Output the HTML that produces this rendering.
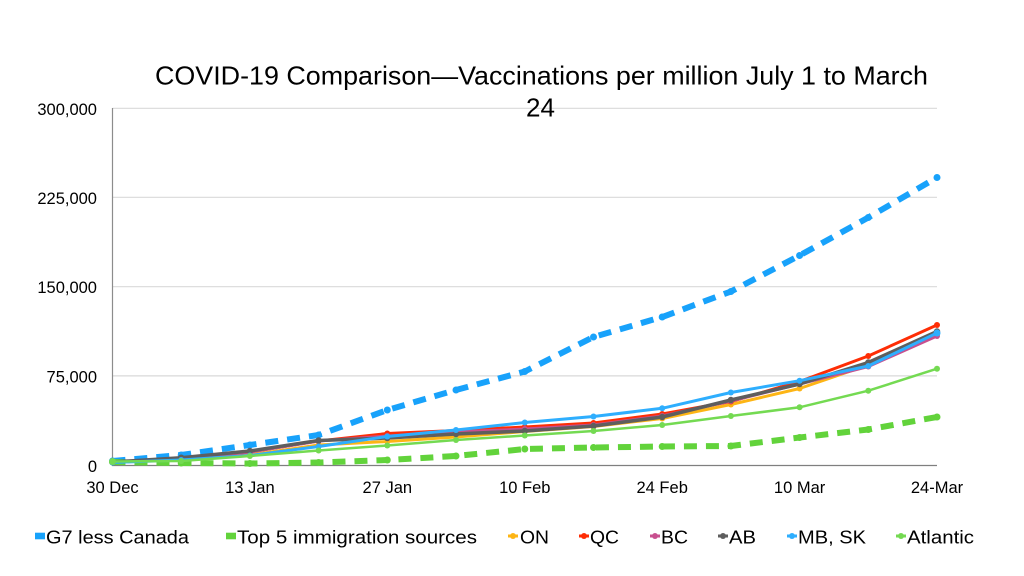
<!DOCTYPE html>
<html>
<head>
<meta charset="utf-8">
<style>
  html,body{margin:0;padding:0;background:#fff;}
  svg{display:block;}
  text{font-family:"Liberation Sans", Arial, sans-serif; fill:#000;}
</style>
</head>
<body>
<svg width="1024" height="576" viewBox="0 0 1024 576" xmlns="http://www.w3.org/2000/svg">
  <rect x="0" y="0" width="1024" height="576" fill="#fff"/>

  <!-- gridlines -->
  <g stroke="#d9d9d9" stroke-width="1.2">
    <line x1="112.5" y1="108.3" x2="937" y2="108.3"/>
    <line x1="112.5" y1="197.3" x2="937" y2="197.3"/>
    <line x1="112.5" y1="286.7" x2="937" y2="286.7"/>
    <line x1="112.5" y1="375.9" x2="937" y2="375.9"/>
  </g>

  <!-- title -->
  <text x="541.5" y="84.3" font-size="26" text-anchor="middle" textLength="773" lengthAdjust="spacingAndGlyphs">COVID-19 Comparison—Vaccinations per million July 1 to March</text>
  <text x="540.5" y="116.7" font-size="26" text-anchor="middle">24</text>

  <!-- axes -->
  <line x1="112.5" y1="108" x2="112.5" y2="465.5" stroke="#8c8c8c" stroke-width="1.2"/>
  <line x1="112" y1="465.5" x2="937" y2="465.5" stroke="#7f7f7f" stroke-width="1.2"/>

  <!-- y labels -->
  <g font-size="16.5" text-anchor="end">
    <text x="97" y="114.8">300,000</text>
    <text x="97" y="203.8">225,000</text>
    <text x="97" y="293.2">150,000</text>
    <text x="97" y="382.4">75,000</text>
    <text x="97" y="471.8">0</text>
  </g>

  <!-- x labels -->
  <g font-size="16.5" text-anchor="middle">
    <text x="112.5" y="493">30 Dec</text>
    <text x="249.9" y="493">13 Jan</text>
    <text x="387.3" y="493">27 Jan</text>
    <text x="524.8" y="493">10 Feb</text>
    <text x="662.2" y="493">24 Feb</text>
    <text x="799.6" y="493">10 Mar</text>
    <text x="937" y="493">24-Mar</text>
  </g>

  <!-- G7 less Canada (dashed blue) -->
  <polyline fill="none" stroke="#18a2fb" stroke-width="6" stroke-dasharray="13 9" stroke-linejoin="round"
    points="112.5,461 181.2,455 249.9,445 318.6,435 387.3,410 456,390 524.8,371.5 593.5,337 662.2,317 730.9,291.5 799.6,255.5 868.3,217.5 937,177.5"/>
  <g fill="#18a2fb">
    <circle cx="112.5" cy="461" r="3.5"/><circle cx="181.2" cy="455" r="3.5"/><circle cx="249.9" cy="445" r="3.5"/><circle cx="318.6" cy="435" r="3.5"/><circle cx="387.3" cy="410" r="3.5"/><circle cx="456" cy="390" r="3.5"/><circle cx="524.8" cy="371.5" r="3.5"/><circle cx="593.5" cy="337" r="3.5"/><circle cx="662.2" cy="317" r="3.5"/><circle cx="730.9" cy="291.5" r="3.5"/><circle cx="799.6" cy="255.5" r="3.5"/><circle cx="868.3" cy="217.5" r="3.5"/><circle cx="937" cy="177.5" r="3.5"/>
  </g>

  <!-- Top 5 immigration sources (dashed green) -->
  <polyline fill="none" stroke="#62d33b" stroke-width="6" stroke-dasharray="13 9" stroke-linejoin="round"
    points="112.5,462 181.2,463 249.9,463.5 318.6,462.5 387.3,460 456,456 524.8,449 593.5,447.5 662.2,446.5 730.9,446 799.6,437.5 868.3,429.5 937,417"/>
  <g fill="#62d33b">
    <circle cx="112.5" cy="462" r="3.5"/><circle cx="181.2" cy="463" r="3.5"/><circle cx="249.9" cy="463.5" r="3.5"/><circle cx="318.6" cy="462.5" r="3.5"/><circle cx="387.3" cy="460" r="3.5"/><circle cx="456" cy="456" r="3.5"/><circle cx="524.8" cy="449" r="3.5"/><circle cx="593.5" cy="447.5" r="3.5"/><circle cx="662.2" cy="446.5" r="3.5"/><circle cx="730.9" cy="446" r="3.5"/><circle cx="799.6" cy="437.5" r="3.5"/><circle cx="868.3" cy="429.5" r="3.5"/><circle cx="937" cy="417" r="3.5"/>
  </g>

  <!-- ON -->
  <polyline fill="none" stroke="#fdb515" stroke-width="3" stroke-linejoin="round"
    points="112.5,462 181.2,460 249.9,455 318.6,445 387.3,441.5 456,437 524.8,431.5 593.5,426.5 662.2,418.5 730.9,404.5 799.6,388.5 868.3,365 937,334"/>
  <g fill="#fdb515">
    <circle cx="112.5" cy="462" r="3"/><circle cx="181.2" cy="460" r="3"/><circle cx="249.9" cy="455" r="3"/><circle cx="318.6" cy="445" r="3"/><circle cx="387.3" cy="441.5" r="3"/><circle cx="456" cy="437" r="3"/><circle cx="524.8" cy="431.5" r="3"/><circle cx="593.5" cy="426.5" r="3"/><circle cx="662.2" cy="418.5" r="3"/><circle cx="730.9" cy="404.5" r="3"/><circle cx="799.6" cy="388.5" r="3"/><circle cx="868.3" cy="365" r="3"/><circle cx="937" cy="334" r="3"/>
  </g>

  <!-- QC -->
  <polyline fill="none" stroke="#fe2d05" stroke-width="3" stroke-linejoin="round"
    points="112.5,462 181.2,459 249.9,452 318.6,441 387.3,433.5 456,430.5 524.8,427 593.5,423 662.2,414 730.9,401.5 799.6,381.5 868.3,356 937,325"/>
  <g fill="#fe2d05">
    <circle cx="112.5" cy="462" r="3"/><circle cx="181.2" cy="459" r="3"/><circle cx="249.9" cy="452" r="3"/><circle cx="318.6" cy="441" r="3"/><circle cx="387.3" cy="433.5" r="3"/><circle cx="456" cy="430.5" r="3"/><circle cx="524.8" cy="427" r="3"/><circle cx="593.5" cy="423" r="3"/><circle cx="662.2" cy="414" r="3"/><circle cx="730.9" cy="401.5" r="3"/><circle cx="799.6" cy="381.5" r="3"/><circle cx="868.3" cy="356" r="3"/><circle cx="937" cy="325" r="3"/>
  </g>

  <!-- BC -->
  <polyline fill="none" stroke="#c8508f" stroke-width="3" stroke-linejoin="round"
    points="112.5,462 181.2,458.5 249.9,452 318.6,441 387.3,436 456,432 524.8,429 593.5,425 662.2,416 730.9,401 799.6,384 868.3,366.5 937,336"/>
  <g fill="#c8508f">
    <circle cx="112.5" cy="462" r="3"/><circle cx="181.2" cy="458.5" r="3"/><circle cx="249.9" cy="452" r="3"/><circle cx="318.6" cy="441" r="3"/><circle cx="387.3" cy="436" r="3"/><circle cx="456" cy="432" r="3"/><circle cx="524.8" cy="429" r="3"/><circle cx="593.5" cy="425" r="3"/><circle cx="662.2" cy="416" r="3"/><circle cx="730.9" cy="401" r="3"/><circle cx="799.6" cy="384" r="3"/><circle cx="868.3" cy="366.5" r="3"/><circle cx="937" cy="336" r="3"/>
  </g>

  <!-- AB -->
  <polyline fill="none" stroke="#5e5e5e" stroke-width="3.5" stroke-linejoin="round"
    points="112.5,462 181.2,457.7 249.9,451 318.6,440.5 387.3,438 456,434 524.8,431 593.5,426 662.2,417 730.9,400 799.6,384 868.3,362.5 937,331.5"/>
  <g fill="#5e5e5e">
    <circle cx="112.5" cy="462" r="3.2"/><circle cx="181.2" cy="457.7" r="3.2"/><circle cx="249.9" cy="451" r="3.2"/><circle cx="318.6" cy="440.5" r="3.2"/><circle cx="387.3" cy="438" r="3.2"/><circle cx="456" cy="434" r="3.2"/><circle cx="524.8" cy="431" r="3.2"/><circle cx="593.5" cy="426" r="3.2"/><circle cx="662.2" cy="417" r="3.2"/><circle cx="730.9" cy="400" r="3.2"/><circle cx="799.6" cy="384" r="3.2"/><circle cx="868.3" cy="362.5" r="3.2"/><circle cx="937" cy="331.5" r="3.2"/>
  </g>

  <!-- MB, SK -->
  <polyline fill="none" stroke="#2eaefe" stroke-width="3" stroke-linejoin="round"
    points="112.5,462.5 181.2,460 249.9,455.5 318.6,446.5 387.3,436.5 456,430 524.8,422.5 593.5,416.5 662.2,408.3 730.9,392.5 799.6,380.7 868.3,366 937,333"/>
  <g fill="#2eaefe">
    <circle cx="112.5" cy="462.5" r="3"/><circle cx="181.2" cy="460" r="3"/><circle cx="249.9" cy="455.5" r="3"/><circle cx="318.6" cy="446.5" r="3"/><circle cx="387.3" cy="436.5" r="3"/><circle cx="456" cy="430" r="3"/><circle cx="524.8" cy="422.5" r="3"/><circle cx="593.5" cy="416.5" r="3"/><circle cx="662.2" cy="408.3" r="3"/><circle cx="730.9" cy="392.5" r="3"/><circle cx="799.6" cy="380.7" r="3"/><circle cx="868.3" cy="366" r="3"/><circle cx="937" cy="333" r="3.5"/>
  </g>

  <!-- Atlantic -->
  <polyline fill="none" stroke="#74da52" stroke-width="2.5" stroke-linejoin="round"
    points="112.5,461.5 181.2,461 249.9,456 318.6,450.5 387.3,445.5 456,440 524.8,435.5 593.5,431 662.2,425 730.9,416 799.6,407.3 868.3,390.7 937,368.7"/>
  <g fill="#74da52">
    <circle cx="112.5" cy="461.5" r="3.5"/><circle cx="181.2" cy="461" r="3"/><circle cx="249.9" cy="456" r="3"/><circle cx="318.6" cy="450.5" r="3"/><circle cx="387.3" cy="445.5" r="3"/><circle cx="456" cy="440" r="3"/><circle cx="524.8" cy="435.5" r="3"/><circle cx="593.5" cy="431" r="3"/><circle cx="662.2" cy="425" r="3"/><circle cx="730.9" cy="416" r="3"/><circle cx="799.6" cy="407.3" r="3"/><circle cx="868.3" cy="390.7" r="3"/><circle cx="937" cy="368.7" r="3"/>
  </g>

  <!-- legend -->
  <g font-size="18.5">
    <rect x="35" y="532.7" width="10" height="6.6" fill="#18a2fb"/>
    <text x="46" y="543.3" textLength="143" lengthAdjust="spacingAndGlyphs">G7 less Canada</text>

    <rect x="226" y="532.7" width="10" height="6.6" fill="#62d33b"/>
    <text x="237" y="543.3" textLength="240" lengthAdjust="spacingAndGlyphs">Top 5 immigration sources</text>

    <line x1="508" y1="536" x2="518" y2="536" stroke="#fdb515" stroke-width="3"/>
    <circle cx="513" cy="536" r="3" fill="#fdb515"/>
    <text x="520" y="543.3" textLength="29" lengthAdjust="spacingAndGlyphs">ON</text>

    <line x1="579" y1="536" x2="589" y2="536" stroke="#fe2d05" stroke-width="3"/>
    <circle cx="584" cy="536" r="3" fill="#fe2d05"/>
    <text x="590" y="543.3" textLength="29" lengthAdjust="spacingAndGlyphs">QC</text>

    <line x1="650" y1="536" x2="660" y2="536" stroke="#c8508f" stroke-width="3"/>
    <circle cx="655" cy="536" r="3" fill="#c8508f"/>
    <text x="661" y="543.3" textLength="27" lengthAdjust="spacingAndGlyphs">BC</text>

    <line x1="718" y1="536" x2="728" y2="536" stroke="#5e5e5e" stroke-width="3"/>
    <circle cx="723" cy="536" r="3" fill="#5e5e5e"/>
    <text x="729" y="543.3" textLength="27" lengthAdjust="spacingAndGlyphs">AB</text>

    <line x1="787" y1="536" x2="797" y2="536" stroke="#2eaefe" stroke-width="3"/>
    <circle cx="792" cy="536" r="3" fill="#2eaefe"/>
    <text x="798" y="543.3" textLength="68" lengthAdjust="spacingAndGlyphs">MB, SK</text>

    <line x1="896" y1="536" x2="906" y2="536" stroke="#74da52" stroke-width="3"/>
    <circle cx="901" cy="536" r="3" fill="#74da52"/>
    <text x="907" y="543.3" textLength="67" lengthAdjust="spacingAndGlyphs">Atlantic</text>
  </g>
</svg>
</body>
</html>
